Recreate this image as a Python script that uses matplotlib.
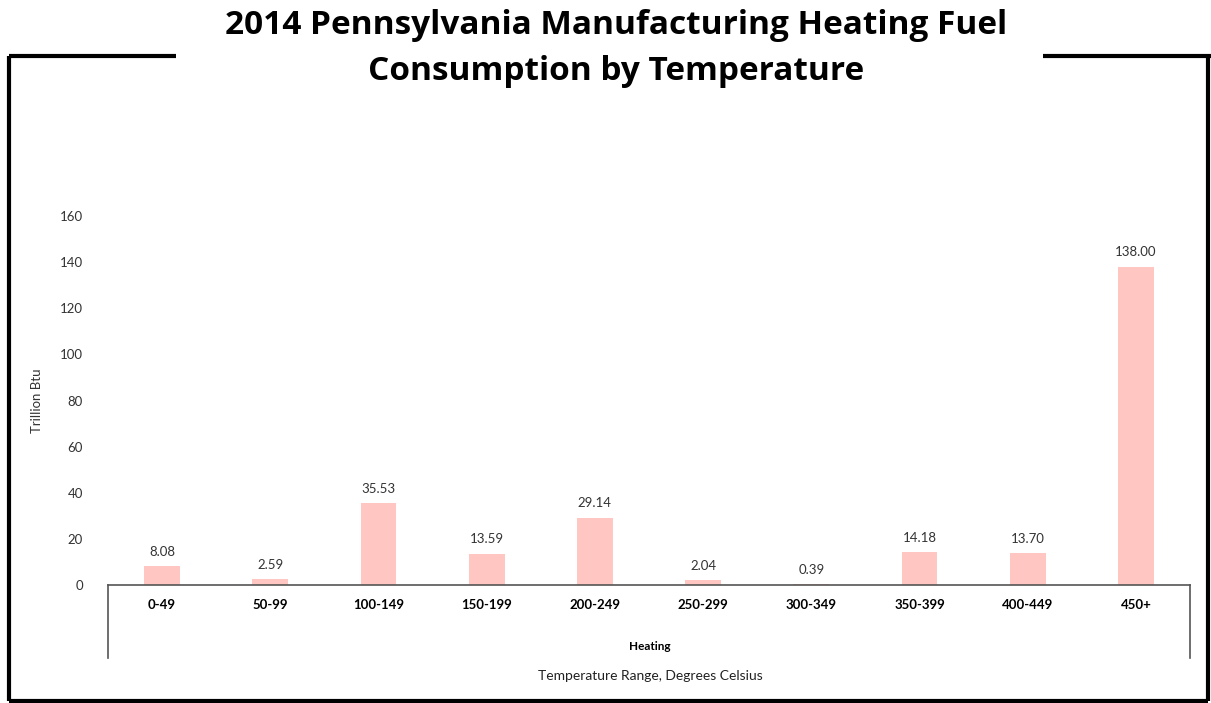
import matplotlib
matplotlib.use("Agg")
import matplotlib.pyplot as plt
from matplotlib.lines import Line2D

categories = ["0-49", "50-99", "100-149", "150-199", "200-249",
              "250-299", "300-349", "350-399", "400-449", "450+"]
values = [8.08, 2.59, 35.53, 13.59, 29.14, 2.04, 0.39, 14.18, 13.70, 138.00]
yticks = [0, 20, 40, 60, 80, 100, 120, 140, 160]

W, H = 1211, 703
fig = plt.figure(figsize=(W / 100, H / 100), dpi=100)
fig.patch.set_facecolor("white")

# axes box in pixels
left, right, bottom, top = 108, 1190, 585, 216
ax = fig.add_axes([left / W, 1 - bottom / H, (right - left) / W, (bottom - top) / H])

x = list(range(len(categories)))
bars = ax.bar(x, values, width=0.33, color="#ffc6c2", zorder=2)
ax.bar_label(bars, labels=[f"{v:.2f}" for v in values], padding=6,
             fontsize=9.5, family="Lato", color="#333333")

ax.set_xlim(-0.5, len(categories) - 0.5)
ax.set_ylim(0, 160)
ax.set_yticks(yticks)
ax.tick_params(axis="y", length=0, pad=18, labelsize=9.5, labelcolor="#333333")
for lab in ax.get_yticklabels():
    lab.set_family("Lato")
ax.set_xticks(x, labels=categories)
ax.tick_params(axis="x", length=0, pad=10, labelsize=9.5)
for lab in ax.get_xticklabels():
    lab.set_family("Lato")
    lab.set_fontweight("bold")

for s in ["top", "right", "left"]:
    ax.spines[s].set_visible(False)
ax.spines["bottom"].set_color("#555555")
ax.spines["bottom"].set_linewidth(1.2)

ax.set_ylabel("Trillion Btu", family="Lato", fontsize=9.5, color="#333333", labelpad=12)

# multi-level category box sides
for xp in (left, right):
    fig.add_artist(Line2D([xp / W, xp / W], [1 - 585 / H, 1 - 658 / H],
                          color="#555555", lw=1.2))
fig.text(650 / W, 1 - 646 / H, "Heating", ha="center", va="center",
         family="Lato", fontweight="bold", fontsize=8.5)
fig.text(650 / W, 1 - 676 / H, "Temperature Range, Degrees Celsius", ha="center",
         va="center", family="Lato", fontsize=10, color="#222222")

# outer frame with gap for the title
frame = dict(color="black", lw=3, solid_capstyle="butt")
fy = 1 - 56 / H
fig.add_artist(Line2D([9 / W, 176 / W], [fy, fy], **frame))
fig.add_artist(Line2D([1043 / W, 1], [fy, fy], **frame))
fig.add_artist(Line2D([9 / W, 9 / W], [fy, 1 - 701 / H], **frame))
fig.add_artist(Line2D([1208 / W, 1208 / W], [fy, 1 - 701 / H], **frame))
fig.add_artist(Line2D([9 / W, 1208 / W], [1 - 701 / H, 1 - 701 / H], **frame))

fig.text(0.509, 1 - 25 / H, "2014 Pennsylvania Manufacturing Heating Fuel",
         ha="center", va="center", family="Open Sans", fontweight="bold", fontsize=24)
fig.text(0.509, 1 - 71 / H, "Consumption by Temperature",
         ha="center", va="center", family="Open Sans", fontweight="bold", fontsize=24)

fig.savefig("out.png", dpi=100)
